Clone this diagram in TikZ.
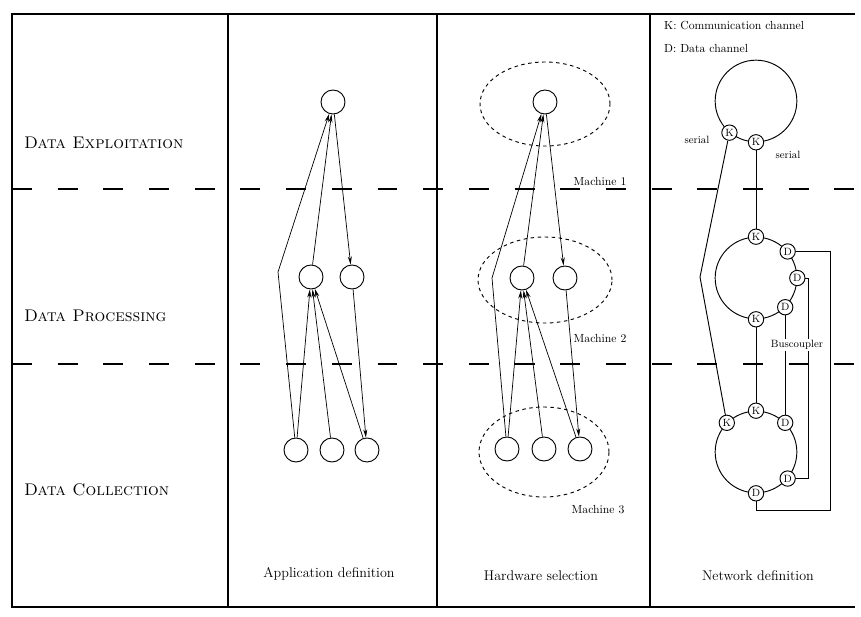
\documentclass[tikz,border=0pt]{standalone}
\usetikzlibrary{arrows.meta,shapes.geometric}
\tikzset{
  task/.style={draw,circle,thick,minimum size=7.2mm,inner sep=0pt},
  machine/.style={draw,ellipse,dashed,thick,inner sep=0pt},
  site/.style={draw,circle,thick,minimum size=24.5mm,inner sep=0pt},
  port/.style={draw,circle,thick,fill=white,minimum size=4.6mm,inner sep=0pt,font=\small},
  layer/.style={dash pattern=on 17pt off 22pt,line width=1.2pt},
  wire/.style={thick},
}
\begin{document}
\begin{tikzpicture}[x=0.3mm,y=-0.3mm,>={Stealth[length=7pt,width=3.4pt]}]
\useasboundingbox (0,0) rectangle (861,616);
% frame and columns
\draw[line width=1.1pt] (855,14) -- (12,14) -- (12,607) -- (855,607);
\draw[line width=1.1pt] (228,14) -- (228,607);
\draw[line width=1.1pt] (437,14) -- (437,607);
\draw[line width=1.1pt] (650,14) -- (650,607);
\draw[layer] (12,189) -- (861,189);
\draw[layer] (12,364) -- (861,364);
% layers
\node[anchor=west,font=\Large\scshape] (lexp) at (20,143) {Data Exploitation};
\node[anchor=west,font=\Large\scshape] (lproc) at (20,316) {Data Processing};
\node[anchor=west,font=\Large\scshape] (lcoll) at (20,490) {Data Collection};
% application definition
\node[task] (t) at (333,102) {};
\node[task] (p1) at (311,277) {};
\node[task] (p2) at (352,277) {};
\node[task] (c1) at (296,450) {};
\node[task] (c2) at (332,450) {};
\node[task] (c3) at (367,450) {};
\coordinate (bend) at (278,272);
\draw[->,semithick] (c1) -- (bend) -- (t);
\draw[->,semithick] (p1) -- (t);
\draw[->,semithick] (t) -- (p2);
\draw[->,semithick] (p2) -- (c3);
\draw[->,semithick] (c1) -- (p1);
\draw[->,semithick] (c2) -- (p1);
\draw[->,semithick] (c3) -- (p1);
\node[font=\large] (app) at (329,574) {Application definition};
% hardware selection
\node[machine,minimum width=39mm,minimum height=25.2mm] (m1) at (545,104) {};
\node[machine,minimum width=40.2mm,minimum height=25.8mm] (m2) at (545,280) {};
\node[machine,minimum width=39mm,minimum height=27mm] (m3) at (544,452) {};
\node[task] (ht) at (545,102) {};
\node[task] (hp1) at (522,278) {};
\node[task] (hp2) at (565,278) {};
\node[task] (hc1) at (507,449) {};
\node[task] (hc2) at (544,449) {};
\node[task] (hc3) at (580,449) {};
\coordinate (hbend) at (492,278);
\draw[->,semithick] (hc1) -- (hbend) -- (ht);
\draw[->,semithick] (hp1) -- (ht);
\draw[->,semithick] (ht) -- (hp2);
\draw[->,semithick] (hp2) -- (hc3);
\draw[->,semithick] (hc1) -- (hp1);
\draw[->,semithick] (hc2) -- (hp1);
\draw[->,semithick] (hc3) -- (hp1);
\node (ml1) at (600,181) {Machine 1};
\node (ml2) at (600,338) {Machine 2};
\node (ml3) at (598,510) {Machine 3};
\node[font=\large] (hw) at (541,576) {Hardware selection};
% network definition
\node[anchor=west] (keyk) at (660,25) {K: Communication channel};
\node[anchor=west] (keyd) at (660,48) {D: Data channel};
\node[site] (n1) at (756,101) {};
\node[site] (n2) at (756,278) {};
\node[site] (n3) at (756,452) {};
\node[port] (k11) at (n1.230) {K};
\node[port] (k12) at (n1.270) {K};
\node[port] (k21) at (n2.90) {K};
\node[port] (d21) at (n2.40) {D};
\node[port] (d22) at (n2.0) {D};
\node[port] (d23) at (n2.-45) {D};
\node[port] (k22) at (n2.270) {K};
\node[port] (k31) at (n3.135) {K};
\node[port] (k32) at (n3.90) {K};
\node[port] (d31) at (n3.45) {D};
\node[port] (d32) at (n3.-40) {D};
\node[port] (d33) at (n3.270) {D};
\coordinate (sbend) at (700,277);
\draw[wire] (k12) -- (k21);
\draw[wire] (k11) -- (sbend) -- (k31);
\draw[wire] (k22) -- (k32);
\draw[wire] (d23) -- (d31);
\draw[wire] (d22) -| (808,0 |- d32) -- (d32);
\draw[wire] (d21) -| (830,510) -| (d33);
\node[font=\small] (ser1) at (697,140) {serial};
\node[font=\small] (ser2) at (788,155) {serial};
\node[font=\small,fill=white,inner sep=1pt] (bus) at (797,345) {Buscoupler};
\node[font=\large] (net) at (758,576) {Network definition};
\end{tikzpicture}
\end{document}
